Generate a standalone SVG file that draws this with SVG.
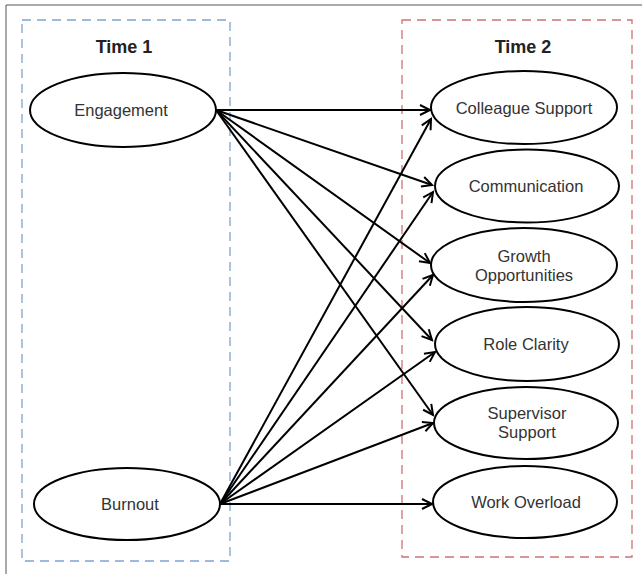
<svg xmlns="http://www.w3.org/2000/svg" width="644" height="574" viewBox="0 0 644 574">
<style>
.frame{fill:none;stroke:#555;stroke-width:1}
.g1{fill:none;stroke:#7fa3d3;stroke-width:1.3;stroke-dasharray:9,6}
.g2{fill:none;stroke:#d07070;stroke-width:1.3;stroke-dasharray:9,6}
.node ellipse{fill:#fff;stroke:#000;stroke-width:2}
.lbl{font-family:"Liberation Sans",Arial,sans-serif;font-size:16.5px;fill:#333;text-anchor:middle}
.title{font-family:"Liberation Sans",Arial,sans-serif;font-size:18px;font-weight:bold;fill:#222;text-anchor:middle}
.conn line{stroke:#000;stroke-width:2;marker-end:url(#arr)}
</style>
<defs>
<marker id="arr" markerUnits="userSpaceOnUse" markerWidth="14" markerHeight="14" refX="11" refY="6" orient="auto" viewBox="0 0 14 12">
<path d="M1,1 L11,6 L1,11" fill="none" stroke="#000" stroke-width="2"/>
</marker>
</defs>
<rect width="644" height="574" fill="#fff"/>
<path class="frame" d="M6,574 V5 H642"/>
<rect class="g1" x="22" y="20" width="208" height="541"/>
<rect class="g2" x="402" y="20" width="230" height="537"/>
<text class="title" x="124" y="53">Time 1</text>
<text class="title" x="523" y="53">Time 2</text>
<g class="conn">
<line x1="216" y1="110" x2="430" y2="110"/>
<line x1="216" y1="110" x2="432" y2="185"/>
<line x1="216" y1="110" x2="430" y2="263"/>
<line x1="216" y1="110" x2="432" y2="340"/>
<line x1="216" y1="110" x2="433" y2="415"/>
<line x1="220" y1="504" x2="431" y2="119"/>
<line x1="220" y1="504" x2="433" y2="192"/>
<line x1="220" y1="504" x2="433" y2="275"/>
<line x1="220" y1="504" x2="435" y2="352"/>
<line x1="220" y1="504" x2="433" y2="423"/>
<line x1="220" y1="504" x2="432" y2="504"/>
</g>
<g id="engagement" class="node"><ellipse cx="123" cy="110" rx="93" ry="37"/><text class="lbl" x="121" y="116">Engagement</text></g>
<g id="burnout" class="node"><ellipse cx="127" cy="504" rx="93" ry="36"/><text class="lbl" x="130" y="510">Burnout</text></g>
<g id="colleague" class="node"><ellipse cx="524" cy="107.5" rx="93" ry="36.5"/><text class="lbl" x="524" y="114">Colleague Support</text></g>
<g id="communication" class="node"><ellipse cx="527" cy="186" rx="92" ry="36.5"/><text class="lbl" x="526" y="192">Communication</text></g>
<g id="growth" class="node"><ellipse cx="524" cy="265" rx="93" ry="37"/><text class="lbl" x="524" y="262">Growth</text><text class="lbl" x="524" y="281">Opportunities</text></g>
<g id="role" class="node"><ellipse cx="527" cy="344" rx="92" ry="37"/><text class="lbl" x="526" y="350">Role Clarity</text></g>
<g id="supervisor" class="node"><ellipse cx="526" cy="423" rx="92" ry="36"/><text class="lbl" x="527" y="419">Supervisor</text><text class="lbl" x="527" y="438">Support</text></g>
<g id="workoverload" class="node"><ellipse cx="525" cy="502" rx="92" ry="36"/><text class="lbl" x="526" y="508">Work Overload</text></g>
</svg>
